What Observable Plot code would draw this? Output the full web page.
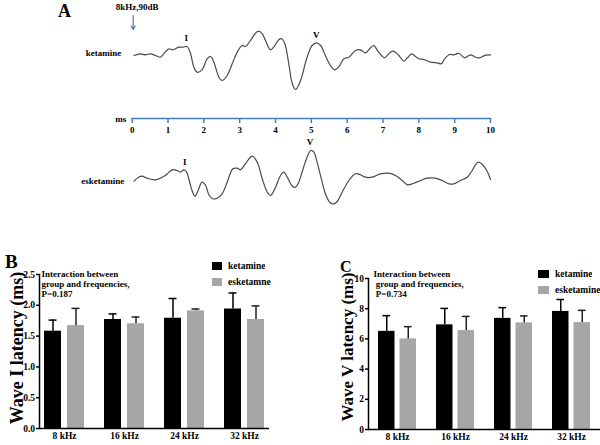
<!DOCTYPE html>
<html><head><meta charset="utf-8">
<script src="https://cdn.jsdelivr.net/npm/d3@7"></script>
<script src="https://cdn.jsdelivr.net/npm/@observablehq/plot@0.6"></script>
<style>
body{margin:0;background:#fff;}
#fig{position:relative;width:600px;height:445px;overflow:hidden;font-family:"Liberation Serif","Times New Roman",serif;font-weight:bold;color:#000;}
#fig > *{position:absolute;margin:0;}
#fig svg, #fig svg text{font-family:"Liberation Serif","Times New Roman",serif !important;font-weight:bold;}
.letter{line-height:1;white-space:nowrap;}
.lg-swatches{font-family:"Liberation Serif","Times New Roman",serif;font-weight:bold;font-size:9.5px;margin:0;}
.lg-swatch{padding-bottom:6px;line-height:10px;}
.lg-swatch > svg{margin-right:6px;}
</style></head><body><div id="fig"></div>
<script>
// ---------- Panel A data (ABR traces, time in ms, amplitude in arbitrary units) ----------
const msTicks = [0,1,2,3,4,5,6,7,8,9,10];
const traceLabels = ["ketamine", "esketamine"];
const stimulus = [{t: 0, label: "8kHz,90dB"}];

const ketamineTime = [0.05,0.23,0.37,0.51,0.65,0.79,0.88,1.02,1.12,1.21,1.30,1.44,1.53,1.63,1.72,1.81,1.95,2.09,2.19,2.28,2.42,2.51,2.65,2.79,2.93,3.07,3.16,3.30,3.44,3.53,3.63,3.72,3.86,3.95,4.09,4.17,4.26,4.37,4.47,4.56,4.70,4.84,4.93,5.02,5.14,5.26,5.39,5.53,5.65,5.77,5.91,6.05,6.23,6.37,6.51,6.65,6.74,6.88,7.04,7.16,7.27,7.42,7.58,7.68,7.80,7.91,8.00,8.14,8.33,8.51,8.63,8.72,8.86,8.98,9.12,9.28,9.44,9.58,9.69,9.86,10.0];
const ketamineAmp = [0,1.7,0.7,1.7,0,-1.7,1.7,6.7,5.7,6.7,8.3,8.3,9,1.7,-11.7,-16.7,-14.3,-3.3,-1,-6.7,-21.7,-25,-20,-8.3,3.3,10,9,15,22.3,24.3,21.7,15,5.7,8.3,15.7,16.7,11.7,-8.3,-28.3,-34,-25,-6.7,3.3,10,12.7,10,0,-10,-14.3,-11,-3.3,-1.7,5,5.7,2.7,7.7,10,3.3,-2.3,1.7,4.3,1,-5.7,-2.3,1.7,-1,-3.3,-4,-6.7,-7.3,-8.3,-3.3,1,0.7,2,-2.3,0.7,-1.7,-2.3,0.3,0.7];
const ketaminePeaks = [{label: "I", t: 1.51, a: 9}, {label: "V", t: 5.14, a: 12.7}];

const esketamineTime = [0.05,0.18,0.28,0.42,0.65,0.84,0.98,1.12,1.26,1.35,1.44,1.51,1.58,1.67,1.75,1.84,1.95,2.05,2.14,2.25,2.37,2.51,2.65,2.81,2.93,3.02,3.16,3.35,3.49,3.63,3.77,3.86,4.00,4.14,4.23,4.35,4.47,4.56,4.65,4.74,4.88,4.98,5.07,5.16,5.28,5.41,5.53,5.63,5.72,5.86,6.05,6.23,6.37,6.51,6.70,6.93,7.16,7.35,7.54,7.68,7.86,8.05,8.23,8.46,8.65,8.84,8.98,9.16,9.35,9.49,9.60,9.67,9.78,9.91,10.0];
const esketamineAmp = [-0.7,3.3,4.3,2.3,0.7,3.3,6.7,10.7,10,8.3,10.7,9,1.7,-10,-15.7,-10,-1.7,-5,-14.3,-18.3,-17.7,-13.3,-1.7,11.7,12.3,10.7,16.7,24.3,18.3,1.7,-11.7,-15,-6.7,5,8.3,1.7,-5.7,-6.7,-1.7,8.3,23.3,30,28.3,18.3,1.7,-15,-22.3,-23.3,-21,-11.7,0,6.7,5.7,3.3,3.3,6.7,7.3,5,0,-4.3,-2.7,0,2.3,2.3,0,-3.3,-3.3,0,3.3,10,16.7,18.3,15.7,9,1];
const esketaminePeaks = [{label: "I", t: 1.47, a: 10.5}, {label: "V", t: 4.96, a: 30}];

// ---------- Panels B and C data ----------
const frequencies = ["8 kHz", "16 kHz", "24 kHz", "32 kHz"];
const legendB = ["ketamine", "esketamne"];
const legendC = ["ketamine", "esketamine"];
const waveIKetamineMean = [1.58, 1.77, 1.79, 1.94];
const waveIKetamineSD   = [0.18, 0.09, 0.32, 0.26];
const waveIEsketamineMean = [1.67, 1.70, 1.91, 1.77];
const waveIEsketamineSD   = [0.28, 0.11, 0.03, 0.22];
const waveVKetamineMean = [6.50, 6.93, 7.36, 7.82];
const waveVKetamineSD   = [1.04, 1.09, 0.71, 0.79];
const waveVEsketamineMean = [6.00, 6.55, 7.06, 7.08];
const waveVEsketamineSD   = [0.81, 0.94, 0.46, 0.81];
const waveITicks = [0, 0.5, 1.0, 1.5, 2.0, 2.5];
const waveVTicks = [0, 2, 4, 6, 8, 10];
const noteB = "Interaction between\ngroup and frequencies,\nP=0.187";
const noteC = "Interaction between\n\u00a0group and frequencies,\n\u00a0P=0.734";

// ---------- helpers ----------
const fig = document.getElementById("fig");
function place(el, left, top) { el.style.left = left + "px"; el.style.top = top + "px"; fig.appendChild(el); }
const serif = '"Liberation Serif","Times New Roman",serif';
const baseStyle = {fontFamily: serif, fontWeight: "bold", fontSize: "9px", background: "transparent", overflow: "visible"};
const traceColor = "#4a4a4a";
const blue = "#4a7cc4";
const gray = "#a6a6a6";

const ketData = ketamineTime.map((t, i) => ({t, a: ketamineAmp[i]}));
const eskData = esketamineTime.map((t, i) => ({t, a: esketamineAmp[i]}));

// ---------- Panel A ----------
const ketPlot = Plot.plot({
  width: 600, height: 100, marginLeft: 131.7, marginRight: 110, marginTop: 0, marginBottom: 0,
  x: {domain: [0, 10], axis: null}, y: {domain: [-45, 55], axis: null},
  style: baseStyle,
  marks: [
    Plot.line(ketData, {x: "t", y: "a", curve: "catmull-rom", stroke: traceColor, strokeWidth: 1.2}),
    Plot.text(ketaminePeaks, {x: "t", y: "a", text: "label", dy: -8, fontSize: 9}),
    Plot.text([traceLabels[0]], {frameAnchor: "left", y: 2, text: d => d, textAnchor: "end", dx: -11}),
    Plot.arrow(stimulus, {x1: "t", x2: "t", y1: 40, y2: 26, stroke: blue, strokeWidth: 1.2, headLength: 5, dx: 1}),
    Plot.text(stimulus, {x: "t", y: 48, text: "label", dx: 5})
  ]
});
place(ketPlot, 0, 0);

const axisPlot = Plot.plot({
  width: 600, height: 42, marginLeft: 131.7, marginRight: 110, marginTop: 0, marginBottom: 24,
  x: {domain: [0, 10]},
  style: baseStyle,
  marks: [
    Plot.frame({anchor: "bottom", stroke: blue, strokeWidth: 1.5}),
    Plot.axisX(msTicks, {anchor: "bottom", tickSize: 5, tickPadding: 3, stroke: blue, strokeWidth: 1.5, fill: "#000", label: null}),
    Plot.text(["ms"], {frameAnchor: "bottom-left", text: d => d, textAnchor: "end", lineAnchor: "middle", dx: -6, dy: 1})
  ]
});
place(axisPlot, 0, 100);

const eskPlot = Plot.plot({
  width: 600, height: 90, marginLeft: 131.7, marginRight: 110, marginTop: 0, marginBottom: 0,
  x: {domain: [0, 10], axis: null}, y: {domain: [-45, 45], axis: null},
  style: baseStyle,
  marks: [
    Plot.line(eskData, {x: "t", y: "a", curve: "catmull-rom", stroke: traceColor, strokeWidth: 1.2}),
    Plot.text(esketaminePeaks, {x: "t", y: "a", text: "label", dy: -8, fontSize: 9}),
    Plot.text([traceLabels[1]], {frameAnchor: "left", y: -0.7, text: d => d, textAnchor: "end", dx: -8})
  ]
});
place(eskPlot, 0, 135);

// ---------- Panels B, C ----------
function barChart(cfg) {
  const ket = frequencies.map((f, i) => ({freq: f, mean: cfg.ketMean[i], sd: cfg.ketSD[i]}));
  const esk = frequencies.map((f, i) => ({freq: f, mean: cfg.eskMean[i], sd: cfg.eskSD[i]}));
  return Plot.plot({
    width: 300, height: 195,
    marginLeft: cfg.ml, marginRight: cfg.mr, marginTop: cfg.mt, marginBottom: cfg.mb,
    x: {domain: frequencies, paddingInner: cfg.pi, paddingOuter: cfg.po, align: 0.5},
    y: {domain: cfg.yDomain},
    style: {...baseStyle, fontSize: "9.5px"},
    marks: [
      Plot.barY(ket, {x: "freq", y: "mean", fill: "#000", insetRight: cfg.inset}),
      Plot.barY(esk, {x: "freq", y: "mean", fill: gray, insetLeft: cfg.inset}),
      Plot.ruleX(ket, {x: "freq", y1: "mean", y2: d => d.mean + d.sd, dx: -cfg.off, stroke: "#000", strokeWidth: 1.5}),
      Plot.ruleX(esk, {x: "freq", y1: "mean", y2: d => d.mean + d.sd, dx: cfg.off, stroke: "#222", strokeWidth: 1.5}),
      Plot.tickY(ket, {x: "freq", y: d => d.mean + d.sd, insetLeft: cfg.capIn, insetRight: cfg.capOut, stroke: "#000", strokeWidth: 1.5}),
      Plot.tickY(esk, {x: "freq", y: d => d.mean + d.sd, insetLeft: cfg.capOut, insetRight: cfg.capIn, stroke: "#222", strokeWidth: 1.5}),
      Plot.frame({anchor: "left", strokeWidth: 1.5}),
      Plot.ruleY([0], {strokeWidth: 1.5}),
      Plot.axisY(cfg.yTicks, {tickSize: 3, tickPadding: 1.5, tickFormat: cfg.fmt, label: null, strokeWidth: 1.5}),
      Plot.axisX({tickSize: 0, tickPadding: 4, label: null}),
      Plot.text([cfg.yTitle], {frameAnchor: "left", rotate: -90, textAnchor: "middle", lineAnchor: "middle", dx: cfg.titleDx, dy: cfg.titleDy, fontSize: cfg.titleSize, text: d => d}),
      Plot.text([cfg.note], {frameAnchor: "top-left", lineAnchor: "top", textAnchor: "start", dx: cfg.noteDx, dy: cfg.noteDy, fontSize: 9, lineHeight: 1.12, text: d => d})
    ]
  });
}

const chartB = barChart({
  ketMean: waveIKetamineMean, ketSD: waveIKetamineSD, eskMean: waveIEsketamineMean, eskSD: waveIEsketamineSD,
  ml: 39, mr: 31, mt: 24, mb: 17, pi: 1/3, po: 1/12,
  inset: 23, off: 11.5, capIn: 4.5, capOut: 27.5,
  yDomain: [0, 2.5], yTicks: waveITicks, fmt: d3.format(".1f"),
  yTitle: "Wave I latency (ms)", titleDx: -22, titleDy: -3.5, titleSize: 18,
  note: noteB, noteDx: 2, noteDy: -5
});
place(chartB, 0, 250);

const chartC = barChart({
  ketMean: waveVKetamineMean, ketSD: waveVKetamineSD, eskMean: waveVEsketamineMean, eskSD: waveVEsketamineSD,
  ml: 68, mr: 0, mt: 28, mb: 16, pi: 0.35, po: 0.145,
  inset: 21.5, off: 10.75, capIn: 4.4, capOut: 25.9,
  yDomain: [0, 10], yTicks: waveVTicks, fmt: d3.format("d"),
  yTitle: "Wave V latency (ms)", titleDx: -20.5, titleDy: -7, titleSize: 17,
  note: noteC, noteDx: 5, noteDy: -8.5
});
place(chartC, 300, 250);

// ---------- legends ----------
const legB = Plot.legend({color: {domain: legendB, range: ["#000", gray]}, legend: "swatches", columns: 1, swatchWidth: 10, swatchHeight: 8, className: "lg"});
place(legB, 212, 261);
const legC = Plot.legend({color: {domain: legendC, range: ["#000", gray]}, legend: "swatches", columns: 1, swatchWidth: 11, swatchHeight: 8, className: "lg"});
place(legC, 538, 269);

// ---------- panel letters ----------
function letter(txt, size, left, top) {
  const d = document.createElement("div");
  d.className = "letter"; d.textContent = txt; d.style.fontSize = size + "px";
  place(d, left, top);
}
letter("A", 18, 58, 1.8);
letter("B", 19, 5, 251.6);
letter("C", 16, 340, 259.2);
</script></body></html>
